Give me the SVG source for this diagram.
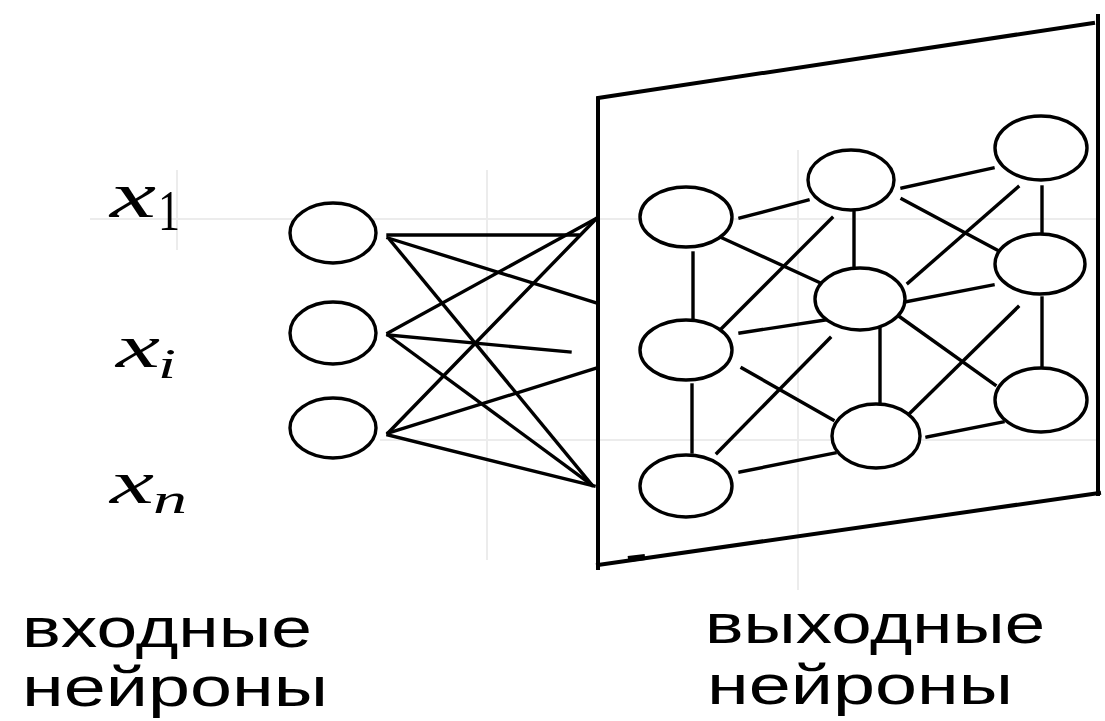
<svg xmlns="http://www.w3.org/2000/svg" width="1105" height="721" viewBox="0 0 1105 721">
  <style>
    .grid { stroke: #ececec; stroke-width: 2; fill: none; }
    .edge { stroke: #000; stroke-width: 3.4; fill: none; stroke-linecap: square; }
    .plane { stroke: #000; stroke-width: 4; fill: none; stroke-linecap: square; }
    .neuron { fill: #fff; stroke: #000; stroke-width: 3.4; }
    .var { font-family: "Liberation Serif", "Times New Roman", serif; font-style: italic; fill: #000; }
    .sub { font-family: "Liberation Serif", "Times New Roman", serif; fill: #000; }
    .caption { font-family: "Liberation Sans", Arial, sans-serif; font-size: 56px; fill: #000; }
  </style>

  <rect width="1105" height="721" fill="#fff"/>

  <!-- faint background grid -->
  <g id="grid">
    <line class="grid" x1="90" y1="219" x2="1100" y2="219"/>
    <line class="grid" x1="380" y1="440" x2="1100" y2="440"/>
    <line class="grid" x1="487" y1="170" x2="487" y2="560"/>
    <line class="grid" x1="798" y1="150" x2="798" y2="590"/>
    <line class="grid" x1="177" y1="170" x2="177" y2="250"/>
  </g>

  <!-- output layer plane -->
  <g id="output-plane">
    <path class="plane" d="M598,568 V98 L1093,23"/>
    <path class="plane" d="M1098,16 V494"/>
    <path class="plane" d="M598,565 L1099,493"/>
    <line x1="628" y1="559" x2="645" y2="557" stroke="#000" stroke-width="6"/>
  </g>

  <g id="connectors">
    <!-- input layer to output plane -->
    <line class="edge" x1="388" y1="235" x2="578" y2="235"/>
    <line class="edge" x1="388" y1="238" x2="597" y2="303"/>
    <line class="edge" x1="390" y1="240" x2="592" y2="485"/>
    <line class="edge" x1="388" y1="333" x2="597" y2="218"/>
    <line class="edge" x1="388" y1="335" x2="570" y2="352"/>
    <line class="edge" x1="388" y1="335" x2="592" y2="485"/>
    <line class="edge" x1="388" y1="433" x2="597" y2="218"/>
    <line class="edge" x1="388" y1="433" x2="597" y2="368"/>
    <line class="edge" x1="388" y1="435" x2="594" y2="486"/>

    <!-- lateral links inside the output plane -->
    <line class="edge" x1="740" y1="218" x2="808" y2="200"/>
    <line class="edge" x1="693" y1="253" x2="693" y2="320"/>
    <line class="edge" x1="720" y1="237" x2="825" y2="285"/>
    <line class="edge" x1="854" y1="212" x2="854" y2="268"/>
    <line class="edge" x1="902" y1="188" x2="993" y2="168"/>
    <line class="edge" x1="902" y1="199" x2="997" y2="250"/>
    <line class="edge" x1="1042" y1="187" x2="1042" y2="235"/>
    <line class="edge" x1="1018" y1="187" x2="908" y2="283"/>
    <line class="edge" x1="720" y1="330" x2="832" y2="218"/>
    <line class="edge" x1="740" y1="333" x2="825" y2="320"/>
    <line class="edge" x1="742" y1="368" x2="833" y2="420"/>
    <line class="edge" x1="692" y1="385" x2="692" y2="452"/>
    <line class="edge" x1="717" y1="453" x2="830" y2="338"/>
    <line class="edge" x1="740" y1="472" x2="835" y2="453"/>
    <line class="edge" x1="880" y1="328" x2="880" y2="403"/>
    <line class="edge" x1="900" y1="317" x2="995" y2="385"/>
    <line class="edge" x1="905" y1="302" x2="993" y2="285"/>
    <line class="edge" x1="1018" y1="307" x2="910" y2="413"/>
    <line class="edge" x1="1042" y1="298" x2="1042" y2="368"/>
    <line class="edge" x1="927" y1="437" x2="1003" y2="422"/>
  </g>

  <!-- input neurons -->
  <g id="in-1"><ellipse class="neuron" cx="333" cy="233" rx="43" ry="30"/></g>
  <g id="in-i"><ellipse class="neuron" cx="333" cy="333" rx="43" ry="31"/></g>
  <g id="in-n"><ellipse class="neuron" cx="333" cy="428" rx="43" ry="30"/></g>

  <!-- output neurons -->
  <g id="out-a"><ellipse class="neuron" cx="686" cy="217" rx="46" ry="30"/></g>
  <g id="out-b"><ellipse class="neuron" cx="851" cy="180" rx="43" ry="30"/></g>
  <g id="out-c"><ellipse class="neuron" cx="1041" cy="148" rx="46" ry="32"/></g>
  <g id="out-d"><ellipse class="neuron" cx="1040" cy="264" rx="45" ry="30"/></g>
  <g id="out-e"><ellipse class="neuron" cx="860" cy="299" rx="45" ry="31"/></g>
  <g id="out-f"><ellipse class="neuron" cx="686" cy="350" rx="46" ry="30"/></g>
  <g id="out-g"><ellipse class="neuron" cx="1041" cy="400" rx="46" ry="32"/></g>
  <g id="out-h"><ellipse class="neuron" cx="876" cy="436" rx="44" ry="32"/></g>
  <g id="out-i"><ellipse class="neuron" cx="686" cy="486" rx="46" ry="31"/></g>

  <!-- input variable labels -->
  <g id="label-x1">
    <text class="var" x="110" y="217" font-size="66" textLength="46" lengthAdjust="spacingAndGlyphs">x</text>
    <text class="sub" x="158" y="230" font-size="56" textLength="22" lengthAdjust="spacingAndGlyphs">1</text>
  </g>
  <g id="label-xi">
    <text class="var" x="116" y="367" font-size="62" textLength="44" lengthAdjust="spacingAndGlyphs">x</text>
    <text class="var" x="158" y="378" font-size="42" textLength="18" lengthAdjust="spacingAndGlyphs">i</text>
  </g>
  <g id="label-xn">
    <text class="var" x="110" y="503" font-size="62" textLength="44" lengthAdjust="spacingAndGlyphs">x</text>
    <text class="var" x="153" y="513" font-size="42" textLength="34" lengthAdjust="spacingAndGlyphs">n</text>
  </g>

  <!-- layer captions -->
  <g id="caption-input">
    <text class="caption" x="22" y="647" textLength="290" lengthAdjust="spacingAndGlyphs">входные</text>
    <text class="caption" x="22" y="706" textLength="306" lengthAdjust="spacingAndGlyphs">нейроны</text>
  </g>
  <g id="caption-output">
    <text class="caption" x="705" y="643" textLength="340" lengthAdjust="spacingAndGlyphs">выходные</text>
    <text class="caption" x="707" y="704" textLength="306" lengthAdjust="spacingAndGlyphs">нейроны</text>
  </g>
</svg>
